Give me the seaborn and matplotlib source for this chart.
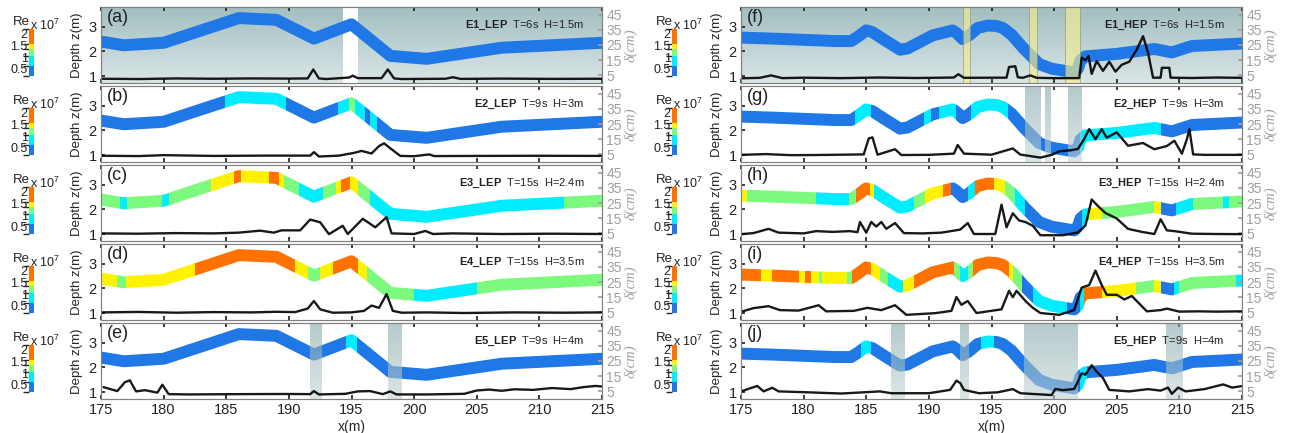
import matplotlib
matplotlib.use("Agg")
import matplotlib.pyplot as plt
import numpy as np
import seaborn as sns
from matplotlib.cm import ScalarMappable
from matplotlib.colors import BoundaryNorm, LinearSegmentedColormap, ListedColormap
from matplotlib.patches import Rectangle

# --- bed profiles (x in m, depth z in m) ---
LEP_X = [175, 176.8, 180, 186, 189, 192, 195, 198.1, 201, 207, 215]
LEP_Z = [2.4, 2.25, 2.35, 3.35, 3.28, 2.52, 3.1, 1.82, 1.7, 2.15, 2.35]

HEP_X = [175, 177.5, 180.5, 182.5, 183.8, 184.4, 185.0, 185.5, 186.5, 187.7, 188.3,
         190.3, 191.9, 192.2, 192.7, 193.2, 193.9, 194.7, 195.4, 195.9, 196.6, 197.6,
         198.8, 199.8, 201.6, 201.9, 202.1, 202.5, 205.0, 208.0, 209.4, 211.0, 215]
HEP_Z = [2.56, 2.52, 2.46, 2.42, 2.42, 2.62, 2.85, 2.78, 2.45, 2.07, 2.12,
         2.65, 2.85, 2.75, 2.5, 2.65, 2.95, 3.05, 3.03, 2.95, 2.68, 2.1,
         1.49, 1.3, 1.15, 1.3, 1.63, 1.8, 1.9, 2.1, 1.96, 2.22, 2.32]

# --- Re classes along the bed: class changes at BRK_*, class per stretch in CLS_* ---
RE_COLORS = ["#1f78e6", "#00ecff", "#7dfa7d", "#fff200", "#ff7200"]
RE_BOUNDS = [0.2, 0.62, 1.05, 1.35, 1.55, 2.2]
RE_TICKS = [0.5, 1, 1.5, 2]

BRK_A, CLS_A = [], [0]
BRK_B = [184.9, 189.8, 193.9, 194.8, 195.3, 196.1, 196.5, 197.0]
CLS_B = [0, 1, 0, 1, 2, 1, 0, 1, 0]
BRK_C = [176.5, 177.05, 179.85, 180.4, 183.8, 185.6, 186.2, 188.4, 189.2, 189.6,
         190.8, 192.7, 193.8, 194.2, 194.9, 195.5, 196.5, 212]
CLS_C = [2, 1, 2, 1, 2, 3, 4, 3, 4, 3, 2, 1, 2, 3, 4, 3, 2, 1, 2]
BRK_D = [176.3, 177.0, 182.5, 190.5, 191.5, 192.5, 193.5, 195.5, 196.2, 200, 205]
CLS_D = [3, 2, 3, 4, 3, 2, 3, 4, 3, 2, 1, 2]
BRK_E = [194.6, 195.4]
CLS_E = [0, 1, 0]

BRK_F, CLS_F = [], [0]
BRK_G = [184.1, 185.4, 189.6, 190.2, 190.8, 192.2, 193.4, 196.3, 202.1, 208.5]
CLS_G = [0, 1, 0, 1, 0, 1, 0, 1, 0, 1, 0]
BRK_H = [175.5, 181, 183.6, 184.2, 185.3, 185.6, 188.8, 189.7, 191.1, 191.8, 193.1,
         193.7, 195.2, 196.1, 196.9, 197.7, 202.2, 202.8, 203.8, 208, 208.5, 209.7,
         211.1, 213.5, 214]
CLS_H = [3, 2, 1, 2, 4, 3, 1, 2, 3, 4, 0, 1, 4, 3, 2, 1, 0, 1, 3, 2, 3, 0, 1, 2, 1, 2]
BRK_I = [176.6, 177.5, 179.6, 180.1, 180.6, 181.2, 181.5, 183.5, 183.9, 185.4, 186.1,
         186.7, 187.9, 188.8, 192, 192.5, 193.1, 193.5, 196.4, 196.7, 197.4, 198.3,
         201, 202.1, 202.4, 203.8, 206.5, 208, 208.5, 209.6, 210, 214.5]
CLS_I = [4, 3, 4, 3, 4, 3, 2, 3, 2, 4, 3, 2, 1, 3, 4, 2, 1, 2, 4, 3, 2, 0, 1, 0, 1,
         4, 3, 2, 3, 0, 1, 2, 1]
BRK_J = [184.6, 185.4, 194.2, 195.2, 202.1, 202.6]
CLS_J = [0, 1, 0, 1, 0, 1, 0]

# --- delta (cm) traces ---
DX_A = [175, 178, 181, 184, 187, 190, 191.5, 191.95, 192.4, 193, 194.8, 195.1, 195.5,
        197.4, 197.9, 198.4, 199, 202.5, 203.1, 203.7, 207, 211, 215]
D_A = [2.8, 2.6, 3.0, 2.8, 3.0, 2.9, 3.0, 8.9, 3.0, 2.6, 3.6, 4.8, 3.2,
       3.2, 8.9, 3.0, 2.6, 2.8, 3.8, 2.7, 2.9, 2.7, 2.8]
DX_B = [175, 178, 180, 184, 188, 191.7, 192.0, 192.4, 194, 195.2, 195.8, 196.6, 197.2,
        197.6, 198.1, 198.9, 200, 201.2, 201.6, 205, 210, 215]
D_B = [4.1, 3.9, 4.5, 4.0, 4.2, 4.2, 6.5, 3.6, 4.2, 6.0, 7.3, 5.6, 10.5,
       12.3, 9.0, 4.0, 3.8, 5.0, 3.9, 4.0, 4.1, 4.0]
DX_C = [175, 178, 181, 184, 186, 187.7, 188.8, 189.4, 190.9, 191.7, 192.5, 193.2, 194.3,
        194.7, 195.9, 196.9, 197.8, 198.2, 200, 200.9, 201.5, 203, 207, 211, 215]
D_C = [5.0, 4.8, 5.2, 5.0, 5.5, 6.8, 5.5, 7.0, 7.0, 14.1, 12.3, 4.5, 10.0,
       4.6, 14.6, 9.0, 15.7, 5.0, 4.6, 6.6, 4.6, 5.0, 4.6, 4.8, 4.6]
DX_D = [175, 178, 181, 184, 187, 189, 190.5, 191.5, 192.0, 192.5, 193.5, 195, 196.0,
        196.6, 197.2, 197.8, 198.3, 199, 201, 204, 208, 212, 215]
D_D = [5.0, 5.3, 4.8, 5.2, 5.0, 5.4, 5.2, 7.5, 12.5, 7.0, 4.8, 5.0, 6.0,
       9.5, 8.0, 17.0, 6.0, 4.8, 5.0, 4.6, 5.0, 4.8, 5.0]
DX_E = [175.2, 176.3, 176.9, 177.3, 177.8, 178.5, 179.5, 179.9, 180.4, 182, 186, 190,
        191.7, 192.0, 192.4, 194.5, 195.5, 196.5, 197.5, 198.1, 198.6, 201, 204, 205,
        206, 207, 208, 209.5, 211, 212.5, 213.5, 214.5, 215]
D_E = [7.8, 5.2, 11.0, 12.3, 5.0, 5.8, 4.2, 9.4, 3.2, 3.0, 3.2, 3.3,
       3.2, 5.2, 3.0, 3.4, 5.0, 5.2, 3.2, 5.0, 3.0, 3.0, 3.4, 5.6,
       6.2, 5.4, 6.4, 6.0, 7.2, 6.5, 7.8, 8.6, 8.2]

DX_F = [175, 176.5, 177.4, 178.3, 180, 183, 186, 189, 192.0, 192.35, 192.8, 195, 196.2,
        196.4, 196.9, 197.1, 197.5, 198.1, 198.6, 200, 202.0, 202.2, 202.5, 202.75,
        203.0, 203.4, 203.9, 204.4, 204.9, 205.4, 206.0, 206.6, 207.1, 207.5, 207.9,
        208.5, 208.6, 209.2, 209.3, 211, 213, 215]
D_F = [3.1, 3.4, 5.0, 3.2, 3.5, 3.2, 3.6, 3.3, 3.6, 5.8, 3.4, 3.5, 3.5,
       10.5, 11.0, 3.8, 3.4, 5.0, 3.4, 3.2, 3.2, 16.6, 15.0, 17.7,
       6.0, 14.4, 8.0, 14.0, 7.5, 12.0, 14.0, 22.0, 30.8, 19.9, 3.5,
       3.5, 10.0, 10.0, 3.5, 3.3, 3.6, 3.4]
DX_G = [175, 177, 179, 181, 183, 184.8, 185.2, 185.5, 185.9, 187.3, 187.8, 190, 192.0,
        192.3, 192.8, 195, 196.7, 197.3, 198.9, 199.8, 200.4, 201.4, 201.9, 202.4, 202.8,
        203.3, 203.8, 204.2, 205.0, 205.9, 207.1, 208.0, 209.0, 209.6, 210.2, 210.6,
        210.8, 211.1, 212, 215]
D_G = [4.7, 5.2, 4.5, 4.6, 4.8, 5.0, 15.5, 16.2, 4.8, 8.4, 4.6, 4.7, 5.5,
       11.2, 5.5, 4.8, 8.9, 4.9, 2.9, 4.7, 7.0, 7.8, 8.6, 15.1, 21.6,
       15.0, 21.6, 16.0, 19.5, 10.7, 12.5, 8.4, 10.5, 14.0, 5.5, 15.0,
       21.6, 5.0, 4.7, 4.7]
DX_H = [175, 176, 177.2, 178, 180, 181, 182.3, 183.7, 184.3, 184.5, 185.0, 185.4, 185.8,
        186.2, 186.6, 187.3, 188.0, 189.5, 191, 192.5, 193.1, 193.6, 195.3, 195.8, 196.2,
        196.7, 197.2, 197.7, 198.3, 198.9, 200.7, 201.9, 202.5, 203.0, 203.5, 204.1,
        205.0, 205.9, 207, 208.0, 208.5, 209.0, 209.6, 211, 213, 215]
D_H = [4.5, 5.2, 8.0, 5.5, 5.0, 6.5, 6.0, 6.5, 5.8, 12.5, 5.5, 12.5, 9.5,
       12.5, 8.0, 11.8, 5.2, 5.0, 5.5, 7.5, 11.8, 4.6, 4.6, 23.9, 9.0,
       18.2, 13.5, 12.5, 10.0, 3.8, 3.8, 5.6, 10.2, 27.3, 23.0, 18.4,
       14.8, 8.0, 6.0, 4.6, 14.3, 7.0, 6.5, 4.8, 4.6, 4.5]
DX_I = [175, 176.0, 177.2, 178.1, 179.6, 181.2, 181.8, 184, 185.1, 186.2, 187.3, 188.2,
        190.5, 191.8, 192.2, 192.6, 193.1, 193.8, 195.8, 196.4, 196.7, 197.0, 197.7,
        198.3, 198.9, 200.4, 201.6, 202.2, 202.8, 203.3, 203.8, 204.2, 205.0, 205.6,
        206.2, 207.4, 208.5, 209.0, 210.0, 211.5, 213, 215]
D_I = [5.4, 7.8, 9.1, 6.5, 6.2, 9.7, 5.7, 6.0, 8.0, 6.5, 9.7, 3.4,
       4.5, 6.0, 15.1, 10.0, 12.5, 4.6, 7.0, 19.2, 15.0, 19.2, 12.6,
       8.0, 4.6, 3.4, 6.5, 21.3, 23.0, 32.5, 23.0, 16.6, 16.6, 13.5,
       15.8, 5.7, 6.5, 7.5, 5.5, 5.7, 5.5, 5.7]
DX_J = [175, 176.3, 176.8, 177.5, 178, 180, 183, 186.1, 187, 190, 191.7, 192.2, 192.5,
        192.8, 194, 195.5, 196.7, 197.3, 199.8, 200.1, 200.7, 201.6, 201.9, 202.2, 202.5,
        203.0, 203.4, 203.9, 204.4, 206, 207.5, 208.5, 209.1, 209.4, 209.9, 210.5, 212,
        213.5, 214.2, 215]
D_J = [5.0, 8.6, 5.0, 7.4, 5.0, 4.5, 3.6, 5.0, 3.8, 3.8, 6.0, 12.1, 10.5,
       6.0, 3.8, 4.4, 6.5, 3.8, 2.6, 6.6, 5.8, 6.6, 11.5, 16.9, 16.0,
       22.2, 18.0, 13.8, 6.0, 5.0, 6.5, 5.5, 7.5, 3.4, 7.5, 5.0, 6.5,
       9.6, 7.5, 8.5]

# --- highlighted x-ranges ---
WHITE_A = [(194.3, 195.55)]
SHADE_E = [(191.7, 192.6), (197.9, 198.95)]
YELLOW_F = [(192.7, 193.3), (198.0, 198.65), (200.9, 202.1)]
SHADE_G = [(197.7, 198.9), (199.25, 199.65), (201.1, 202.15)]
SHADE_J = [(187.0, 188.1), (192.5, 193.2), (197.6, 201.9), (208.9, 210.2)]

LABELS = ["(a)", "(b)", "(c)", "(d)", "(e)", "(f)", "(g)", "(h)", "(i)", "(j)"]
CASES = ["E1", "E2", "E3", "E4", "E5"]
WAVES = ["T=6s  H=1.5m", "T=9s  H=3m", "T=15s  H=2.4m", "T=15s  H=3.5m", "T=9s  H=4m"]

X_TICKS = [175, 180, 185, 190, 195, 200, 205, 210, 215]
Z_TICKS = [1, 2, 3]
D_TICKS = [5, 15, 25, 35, 45]

# layout (pixels)
W, H = 1294, 433
ROW_TOP = [7, 86, 165, 244, 323]
ROW_H = 76
COL_LEFT = [101, 741]
COL_W = 501
CBAR_LEFT = [29, 672]
ZLIM = (0.72, 3.8)
DLIM = (0, 50)

sns.set_theme(style="ticks")
plt.rcParams["font.family"] = ["Liberation Sans", "DejaVu Sans"]
plt.rcParams["mathtext.fontset"] = "custom"
plt.rcParams["mathtext.rm"] = "Liberation Sans"
plt.rcParams["mathtext.bf"] = "Liberation Sans:bold"

SPINE = "#808080"
GREY_TXT = "#a0a0a0"

re_cmap = ListedColormap(RE_COLORS)
re_norm = BoundaryNorm(RE_BOUNDS, re_cmap.N)
bg_cmap = LinearSegmentedColormap.from_list("bg", ["#d9e5e6", "#a3bfc1"])
shade_cmap = LinearSegmentedColormap.from_list("sh", ["#c3d4d5", "#86a8ab"])


def gradient(ax, x0, x1, cmap, alpha=1.0, z=0):
    ax.imshow(np.linspace(0, 1, 64).reshape(-1, 1), cmap=cmap, origin="lower",
              extent=[x0, x1, ZLIM[0], ZLIM[1]], aspect="auto", alpha=alpha,
              zorder=z, interpolation="bilinear")


def draw_bed(ax, x, z, breaks, classes):
    edges = [x[0]] + breaks + [x[-1]]
    for x0, x1, c in zip(edges[:-1], edges[1:], classes):
        sns.lineplot(x=x, y=z, ax=ax, color=RE_COLORS[c], linewidth=8.6,
                     solid_capstyle="round", solid_joinstyle="round", zorder=3)
        line = ax.lines[-1]
        line.set_clip_path(Rectangle((x0, -10), x1 - x0, 20, transform=ax.transData))


fig = plt.figure(figsize=(W / 100, H / 100), dpi=100)

panels = [
    (LEP_X, LEP_Z, BRK_A, CLS_A, DX_A, D_A),
    (LEP_X, LEP_Z, BRK_B, CLS_B, DX_B, D_B),
    (LEP_X, LEP_Z, BRK_C, CLS_C, DX_C, D_C),
    (LEP_X, LEP_Z, BRK_D, CLS_D, DX_D, D_D),
    (LEP_X, LEP_Z, BRK_E, CLS_E, DX_E, D_E),
    (HEP_X, HEP_Z, BRK_F, CLS_F, DX_F, D_F),
    (HEP_X, HEP_Z, BRK_G, CLS_G, DX_G, D_G),
    (HEP_X, HEP_Z, BRK_H, CLS_H, DX_H, D_H),
    (HEP_X, HEP_Z, BRK_I, CLS_I, DX_I, D_I),
    (HEP_X, HEP_Z, BRK_J, CLS_J, DX_J, D_J),
]
shades = {4: SHADE_E, 6: SHADE_G, 9: SHADE_J}

for k, (bx, bz, brk, cls, dx, dd) in enumerate(panels):
    col, row = divmod(k, 5)
    top = ROW_TOP[row]
    ax = fig.add_axes([COL_LEFT[col] / W, 1 - (top + ROW_H) / H, COL_W / W, ROW_H / H])

    if row == 0:
        gradient(ax, 175, 215, bg_cmap)
    if k == 0:
        for x0, x1 in WHITE_A:
            ax.axvspan(x0, x1, color="white", zorder=1, lw=0)

    draw_bed(ax, bx, bz, brk, cls)

    for x0, x1 in shades.get(k, []):
        gradient(ax, x0, x1, shade_cmap, alpha=0.6, z=4)
    if k == 5:
        for x0, x1 in YELLOW_F:
            ax.axvspan(x0, x1, facecolor="#f4ee90", alpha=0.65, edgecolor="#8a8a6a",
                       lw=0.6, zorder=4)

    ax.set_xlim(175, 215)
    ax.set_ylim(*ZLIM)
    ax.set_yticks(Z_TICKS)
    ax.set_xticks(X_TICKS)
    ax.tick_params(direction="in", length=3, top=True, labelsize=10.5, colors="#222222",
                   pad=3)
    ax.set_ylabel("Depth z(m)", fontsize=9.5, labelpad=4)
    if row == 4:
        ax.set_xlabel("x(m)", fontsize=10, labelpad=2)
    else:
        ax.tick_params(labelbottom=False)
        ax.set_xlabel("")

    ax.text(0.012, 0.97, LABELS[k], transform=ax.transAxes, fontsize=13,
            va="top", ha="left", color="#222222", zorder=6)
    tag = CASES[row] + ("_LEP" if col == 0 else "_HEP")
    ax.text(0.965, 0.76, r"$\mathbf{" + tag.replace("_", r"\_") + "}$  " + WAVES[row],
            transform=ax.transAxes, fontsize=8, ha="right", va="center",
            color="#222222", zorder=6)

    ax2 = ax.twinx()
    sns.lineplot(x=dx, y=dd, ax=ax2, color="black", linewidth=1.7, alpha=0.9)
    ax2.set_ylim(*DLIM)
    ax2.set_yticks(D_TICKS)
    ax2.tick_params(direction="in", length=3, labelsize=10, colors=GREY_TXT, pad=3)
    ax2.set_ylabel("")
    ax2.text(1.058, 0.5, "δ(cm)", transform=ax.transAxes, rotation=90, ha="center",
             va="center", fontsize=10.5, color=GREY_TXT,
             family=["Liberation Serif", "DejaVu Serif"], style="italic")
    for a in (ax, ax2):
        for s in a.spines.values():
            s.set_color(SPINE)
            s.set_linewidth(0.8)

    # Re colorbar
    cax = fig.add_axes([CBAR_LEFT[col] / W, 1 - (top + 69) / H, 5 / W, 47 / H])
    cb = fig.colorbar(ScalarMappable(norm=re_norm, cmap=re_cmap), cax=cax,
                      spacing="proportional", ticks=RE_TICKS)
    cb.outline.set_visible(False)
    cax.yaxis.set_ticks_position("left")
    cax.set_yticklabels(["0.5", "1", "1.5", "2"])
    cax.tick_params(length=0, labelsize=9, pad=1, colors="#222222")
    fig.text((CBAR_LEFT[col] - 8) / W, 1 - (top + 15) / H, "Re", fontsize=9.5,
             ha="center", va="center", color="#222222")
    fig.text((CBAR_LEFT[col] + 1) / W, 1 - (top + 18) / H, r"x 10$^7$", fontsize=9,
             ha="left", va="center", color="#222222")

fig.savefig("out.png", dpi=100)
